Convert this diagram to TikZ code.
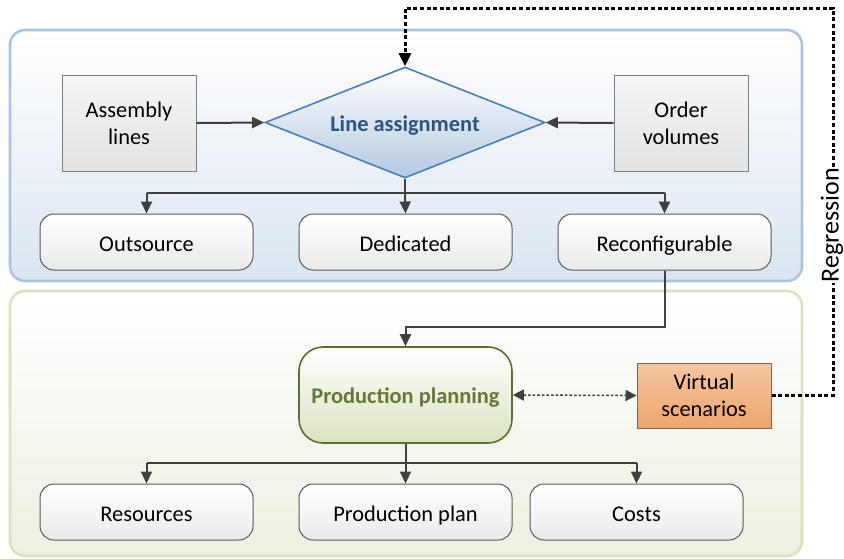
\documentclass[tikz,border=0pt]{standalone}
\usepackage{fontspec}
\setmainfont{Carlito}
\usetikzlibrary{shapes.geometric,arrows.meta}

\definecolor{blueedge}{HTML}{A9C4E0}
\definecolor{bluefill}{HTML}{DAE5F1}
\definecolor{greenedge}{HTML}{D7E4BD}
\definecolor{greenfill}{HTML}{ECF0E1}
\definecolor{greyedge}{HTML}{7F7F7F}
\definecolor{greytop}{HTML}{F6F6F6}
\definecolor{greybot}{HTML}{E2E2E2}
\definecolor{roundedge}{HTML}{5A5A5A}
\definecolor{roundbot}{HTML}{EAEAEA}
\definecolor{diaedge}{HTML}{4A7EBB}
\definecolor{diabot}{HTML}{B4C9E2}
\definecolor{diatext}{HTML}{2C5480}
\definecolor{ppedge}{HTML}{5A6E2E}
\definecolor{ppbot}{HTML}{D9E3C0}
\definecolor{pptext}{HTML}{637936}
\definecolor{vstop}{HTML}{F5C6A2}
\definecolor{vsbot}{HTML}{EEA46C}
\definecolor{vsedge}{HTML}{7A6656}
\definecolor{wire}{HTML}{404040}

\newcommand{\bodyfont}{\fontsize{11.2pt}{13.4pt}\selectfont}

\tikzset{
  panel/.style={rounded corners=7.5pt, line width=1.3pt, minimum width=396pt},
  inbox/.style={draw=greyedge, line width=0.5pt, top color=greytop, bottom color=greybot,
    minimum width=67pt, minimum height=48pt, align=center, inner sep=0pt},
  optbox/.style={draw=roundedge, line width=0.5pt, rounded corners=7pt, top color=white,
    bottom color=roundbot, minimum width=106.5pt, minimum height=28pt, inner sep=0pt,
    text height=9pt, text depth=0pt},
  decide/.style={diamond, aspect=2.52, draw=diaedge, line width=0.8pt, top color=white,
    bottom color=diabot, minimum width=140pt, minimum height=55.5pt, inner sep=0pt,
    text=diatext, font=\bodyfont\bfseries, text height=9pt, text depth=0pt},
  planbox/.style={draw=ppedge, line width=0.8pt, rounded corners=12pt, top color=white,
    bottom color=ppbot, minimum width=106.5pt, minimum height=48pt, inner sep=0pt,
    text=pptext, font=\bodyfont\bfseries, text height=8.5pt, text depth=0pt},
  scenbox/.style={draw=vsedge, line width=0.5pt, top color=vstop, bottom color=vsbot,
    minimum width=67pt, minimum height=32.5pt, align=center, inner sep=0pt},
  flow/.style={draw=wire, line width=1pt, -{Triangle[length=6pt,width=5.5pt]}},
  link/.style={draw=wire, line width=1pt},
  exchange/.style={draw=wire, line width=0.75pt, dash pattern=on 1.3pt off 1pt,
    {Triangle[length=5.5pt,width=5.5pt]}-{Triangle[length=5.5pt,width=5.5pt]}},
  feedback/.style={draw=black, line width=1.5pt, dash pattern=on 2pt off 1.3pt},
}

\begin{document}
\begin{tikzpicture}[x=0.5pt, y=-0.5pt, font=\bodyfont]
\useasboundingbox (0,0) rectangle (844,558);

% two stage panels
\node[panel, draw=blueedge, top color=white, bottom color=bluefill,
  minimum height=125.5pt] (stageA) at (406,155.5) {};
\node[panel, draw=greenedge, top color=white, bottom color=greenfill,
  minimum height=132.5pt] (stageB) at (406,423.5) {};

% line assignment stage
\node[inbox] (lines) at (129,123) {Assembly\\lines};
\node[inbox] (orders) at (681,123) {Order\\volumes};
\node[decide] (assign) at (405,122.5) {Line assignment};

\node[optbox] (outs) at (146.5,242) {Outsource};
\node[optbox] (dedi) at (405.5,242) {Dedicated};
\node[optbox] (reco) at (664.5,242) {Reconfigurable};

% production planning stage
\node[planbox] (plan) at (405.5,395) {Production planning};
\node[scenbox] (virt) at (704,395.5) {Virtual\\scenarios};

\node[optbox] (res) at (146.5,512) {Resources};
\node[optbox] (pplan) at (405.5,512) {Production plan};
\node[optbox] (cost) at (636.5,512) {Costs};

% inputs to the decision
\draw[flow] (lines.east) -- (assign.west);
\draw[flow] (orders.west) -- (assign.east);

% decision outcomes
\coordinate (splitA) at (405,193);
\draw[link] (assign.south) -- (splitA);
\draw[link] (outs.north |- splitA) -- (reco.north |- splitA);
\draw[flow] (splitA -| outs.north) -- (outs.north);
\draw[flow] (splitA) -- (dedi.north);
\draw[flow] (splitA -| reco.north) -- (reco.north);

% reconfigurable lines feed production planning
\coordinate (bendR) at (664.5,327);
\draw[flow] (reco.south) -- (bendR) -- (bendR -| plan.north) -- (plan.north);

% planning outputs
\coordinate (splitB) at (405.5,463);
\draw[link] (plan.south) -- (splitB);
\draw[link] (res.north |- splitB) -- (cost.north |- splitB);
\draw[flow] (splitB -| res.north) -- (res.north);
\draw[flow] (splitB) -- (pplan.north);
\draw[flow] (splitB -| cost.north) -- (cost.north);

% scenario exchange
\draw[exchange] (plan.east) -- (virt.west);

% regression feedback loop
\coordinate (loopA) at (833,395.5);
\coordinate (loopB) at (833,8);
\draw[feedback, -{Triangle[length=6.5pt,width=6pt]}] (virt.east) -- (loopA) -- (loopB)
  -- (loopB -| assign.north) -- (assign.north);
\node[fill=white, inner xsep=0.5pt, inner ysep=0pt, rotate=90,
  font=\fontsize{13pt}{15pt}\selectfont] (regr) at (832,225) {Regression};
\end{tikzpicture}
\end{document}
